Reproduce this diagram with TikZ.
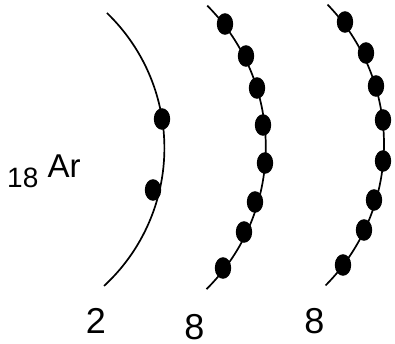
\documentclass[tikz,border=0pt]{standalone}
\usepackage{fontspec}
\setmainfont{Liberation Sans}
\begin{document}
\begin{tikzpicture}[x=1pt,y=-1pt,
  shell/.style={line width=1.7pt, black},
  electron/.style={fill=black},
  lbl/.style={inner sep=0pt, anchor=base, font=\fontsize{36}{36}\selectfont}]
\useasboundingbox (0,0) rectangle (395,344);
% shells
\draw[shell] plot[domain=-46.1:47.3, samples=80] ({-23.2+187.6*cos(\x)},{148.1+187.6*sin(\x)});
\draw[shell] plot[domain=-45:45.3, samples=80] ({65.8+200*cos(\x)},{147+200*sin(\x)});
\draw[shell] plot[domain=-44.1:44.9, samples=80] ({183.6+200.4*cos(\x)},{144+200.4*sin(\x)});
% electrons
\foreach \px/\py in {162/119, 153/190,
  225/24, 246/56, 257/88, 263/125, 265/163, 255/202, 244/232, 223/268,
  345/22, 366/53, 376/86, 383/120, 383/161, 374/200, 364/230, 343/265}
  \fill[electron] (\px,\py) ellipse [x radius=8.2, y radius=10.8];
% labels
\node[inner sep=0pt, anchor=base west, font=\fontsize{28}{28}\selectfont] (z) at (7,188) {18};
\node[inner sep=0pt, anchor=base west, font=\fontsize{33}{33}\selectfont] (el) at (47.5,178) {Ar};
\node[lbl] (n1) at (96,333) {2};
\node[lbl] (n2) at (194.5,339.5) {8};
\node[lbl] (n3) at (314.5,333) {8};
\end{tikzpicture}
\end{document}
